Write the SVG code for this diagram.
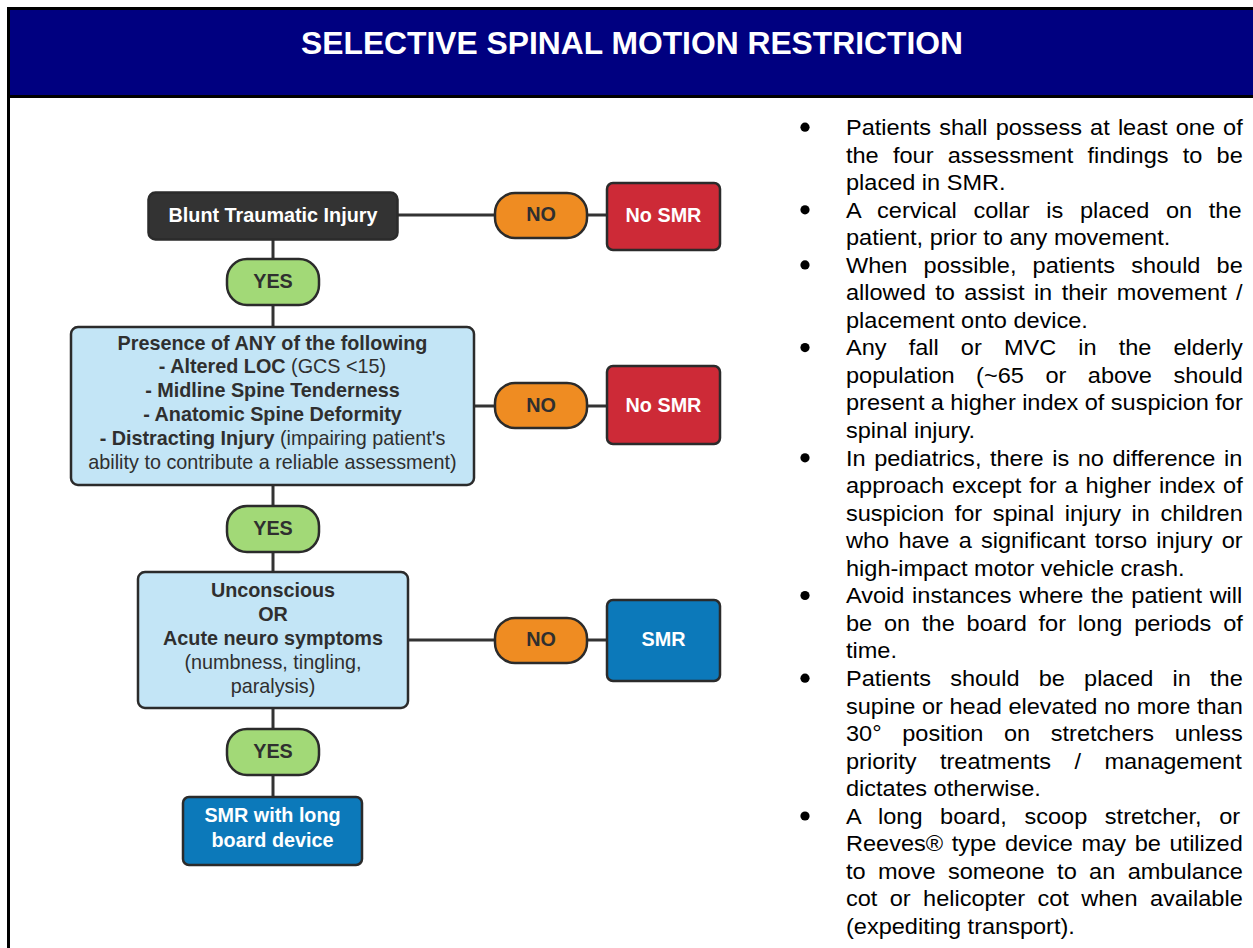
<svg xmlns="http://www.w3.org/2000/svg" width="1253" height="948" viewBox="0 0 1253 948">
<style>
.fc{font-family:"Liberation Sans",Arial,Helvetica,sans-serif;font-size:19.8px;text-anchor:middle;}
.b{font-weight:bold;}
.n{font-weight:normal;}
.dk{fill:#2f2f2f;}
.wt{fill:#ffffff;}
.edge{stroke:#2b2b2b;stroke-width:2.5;}
.dark{fill:#333333;}
.orange{fill:#EF8C22;}
.green{fill:#A2D977;}
.red{fill:#CD2A37;}
.blue{fill:#0C79BA;}
.light{fill:#C3E5F6;}
.conn line{stroke:#333333;stroke-width:3;}
.frame{stroke:#000000;stroke-width:3;fill:none;}
.body{font-family:"Liberation Sans",Arial,Helvetica,sans-serif;font-size:22px;fill:#000000;}
.bul{fill:#000000;}
</style>

<!-- header band and frame -->
<rect x="8.5" y="8.5" width="1246" height="88" fill="#000080"/>
<line class="frame" x1="7" y1="8.5" x2="1253" y2="8.5"/>
<line class="frame" x1="7" y1="96.5" x2="1253" y2="96.5"/>
<line class="frame" x1="8.5" y1="7" x2="8.5" y2="948"/>
<text x="632" y="53.5" font-family="Liberation Sans, Arial, Helvetica, sans-serif" font-size="31.8" font-weight="bold" fill="#ffffff" text-anchor="middle">SELECTIVE SPINAL MOTION RESTRICTION</text>

<!-- connectors -->
<g class="conn" id="connectors">
<line x1="397.5" y1="215" x2="495" y2="215"/>
<line x1="587" y1="215" x2="607" y2="215"/>
<line x1="273" y1="239.5" x2="273" y2="259"/>
<line x1="273" y1="305" x2="273" y2="327"/>
<line x1="474" y1="406" x2="495" y2="406"/>
<line x1="587" y1="406" x2="607" y2="406"/>
<line x1="273" y1="485" x2="273" y2="506"/>
<line x1="273" y1="552" x2="273" y2="572"/>
<line x1="408" y1="640" x2="495" y2="640"/>
<line x1="587" y1="640" x2="607" y2="640"/>
<line x1="273" y1="708" x2="273" y2="729"/>
<line x1="273" y1="775" x2="273" y2="797"/>
</g>

<!-- nodes -->
<g id="blunt">
<rect class="dark edge" x="148.5" y="192.5" width="249" height="47" rx="7"/>
<text class="fc b wt" x="273" y="221.5">Blunt Traumatic Injury</text>
</g>
<g id="no1">
<rect class="orange edge" x="495" y="193" width="92" height="45" rx="20"/>
<text class="fc b dk" x="541" y="221">NO</text>
</g>
<g id="nosmr1">
<rect class="red edge" x="607" y="183" width="113" height="67" rx="6"/>
<text class="fc b wt" x="663.5" y="221.5">No SMR</text>
</g>
<g id="yes1">
<rect class="green edge" x="227" y="259" width="92" height="46" rx="20"/>
<text class="fc b dk" x="273" y="288">YES</text>
</g>
<g id="criteria">
<rect class="light edge" x="71" y="327" width="403" height="158" rx="7"/>
<text class="fc b dk" x="272.5" y="349.5">Presence of ANY of the following</text>
<text class="fc dk" x="272.5" y="373.3"><tspan class="b">- Altered LOC</tspan><tspan class="n"> (GCS &lt;15)</tspan></text>
<text class="fc b dk" x="272.5" y="397.1">- Midline Spine Tenderness</text>
<text class="fc b dk" x="272.5" y="420.9">- Anatomic Spine Deformity</text>
<text class="fc dk" x="272.5" y="444.7"><tspan class="b">- Distracting Injury</tspan><tspan class="n"> (impairing patient's</tspan></text>
<text class="fc n dk" x="272.5" y="468.5">ability to contribute a reliable assessment)</text>
</g>
<g id="no2">
<rect class="orange edge" x="495" y="383" width="92" height="45" rx="20"/>
<text class="fc b dk" x="541" y="411.5">NO</text>
</g>
<g id="nosmr2">
<rect class="red edge" x="607" y="366" width="113" height="78" rx="6"/>
<text class="fc b wt" x="663.5" y="411.5">No SMR</text>
</g>
<g id="yes2">
<rect class="green edge" x="227" y="506" width="92" height="46" rx="20"/>
<text class="fc b dk" x="273" y="535">YES</text>
</g>
<g id="neuro">
<rect class="light edge" x="138" y="572" width="270" height="136" rx="7"/>
<text class="fc b dk" x="273" y="596.7">Unconscious</text>
<text class="fc b dk" x="273" y="620.7">OR</text>
<text class="fc b dk" x="273" y="645">Acute neuro symptoms</text>
<text class="fc n dk" x="273" y="669">(numbness, tingling,</text>
<text class="fc n dk" x="273" y="693">paralysis)</text>
</g>
<g id="no3">
<rect class="orange edge" x="495" y="618" width="92" height="45" rx="20"/>
<text class="fc b dk" x="541" y="646">NO</text>
</g>
<g id="smr">
<rect class="blue edge" x="607" y="600" width="113" height="81" rx="6"/>
<text class="fc b wt" x="663.5" y="646">SMR</text>
</g>
<g id="yes3">
<rect class="green edge" x="227" y="729" width="92" height="46" rx="20"/>
<text class="fc b dk" x="273" y="758">YES</text>
</g>
<g id="longboard">
<rect class="blue edge" x="183" y="797" width="179" height="68" rx="6"/>
<text class="fc b wt" x="272.5" y="822">SMR with long</text>
<text class="fc b wt" x="272.5" y="847">board device</text>
</g>

<!-- notes -->
<g id="notes">
<circle class="bul" cx="805" cy="127.2" r="4.6"/>
<circle class="bul" cx="805" cy="209.8" r="4.6"/>
<circle class="bul" cx="805" cy="264.9" r="4.6"/>
<circle class="bul" cx="805" cy="347.6" r="4.6"/>
<circle class="bul" cx="805" cy="457.8" r="4.6"/>
<circle class="bul" cx="805" cy="595.5" r="4.6"/>
<circle class="bul" cx="805" cy="678.2" r="4.6"/>
<circle class="bul" cx="805" cy="816" r="4.6"/>
<g transform="translate(846 0) scale(1.07 1)" class="body">
<text x="0" y="135" word-spacing="1.51">Patients shall possess at least one of</text>
<text x="0" y="162.55" word-spacing="7.19">the four assessment findings to be</text>
<text x="0" y="190.1">placed in SMR.</text>
<text x="0" y="217.65" word-spacing="9.47">A cervical collar is placed on the</text>
<text x="0" y="245.2">patient, prior to any movement.</text>
<text x="0" y="272.75" word-spacing="8.99">When possible, patients should be</text>
<text x="0" y="300.3" word-spacing="2.73">allowed to assist in their movement /</text>
<text x="0" y="327.85">placement onto device.</text>
<text x="0" y="355.4" word-spacing="14.57">Any fall or MVC in the elderly</text>
<text x="0" y="382.95" word-spacing="14.03">population (~65 or above should</text>
<text x="0" y="410.5" word-spacing="-0.12">present a higher index of suspicion for</text>
<text x="0" y="438.05">spinal injury.</text>
<text x="0" y="465.6" word-spacing="1.92">In pediatrics, there is no difference in</text>
<text x="0" y="493.15" word-spacing="1.3">approach except for a higher index of</text>
<text x="0" y="520.7" word-spacing="3.78">suspicion for spinal injury in children</text>
<text x="0" y="548.25" word-spacing="2.53">who have a significant torso injury or</text>
<text x="0" y="575.8">high-impact motor vehicle crash.</text>
<text x="0" y="603.35" word-spacing="1.08">Avoid instances where the patient will</text>
<text x="0" y="630.9" word-spacing="4.96">be on the board for long periods of</text>
<text x="0" y="658.45">time.</text>
<text x="0" y="686" word-spacing="11.83">Patients should be placed in the</text>
<text x="0" y="713.55" word-spacing="0.08">supine or head elevated no more than</text>
<text x="0" y="741.1" word-spacing="13.2">30° position on stretchers unless</text>
<text x="0" y="768.65" word-spacing="15.75">priority treatments / management</text>
<text x="0" y="796.2">dictates otherwise.</text>
<text x="0" y="823.75" word-spacing="10.37">A long board, scoop stretcher, or</text>
<text x="0" y="851.3" word-spacing="2">Reeves® type device may be utilized</text>
<text x="0" y="878.85" word-spacing="5.48">to move someone to an ambulance</text>
<text x="0" y="906.4" word-spacing="5.48">cot or helicopter cot when available</text>
<text x="0" y="933.95">(expediting transport).</text>
</g>
</g>
</svg>
